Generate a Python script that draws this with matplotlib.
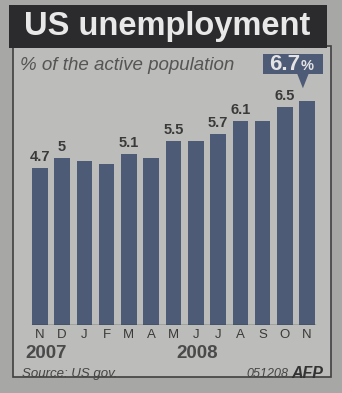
import numpy as np
import matplotlib

matplotlib.use("Agg")
import matplotlib.pyplot as plt
from matplotlib.patches import Rectangle, Polygon

months = ["N", "D", "J", "F", "M", "A", "M", "J", "J", "A", "S", "O", "N"]
rates = [4.7, 5.0, 4.9, 4.8, 5.1, 5.0, 5.5, 5.5, 5.7, 6.1, 6.1, 6.5, 6.7]
shown_labels = ["4.7", "5", "", "", "5.1", "", "5.5", "", "5.7", "6.1", "", "6.5", ""]
years = ["2007", "2008"]
year_anchor = [-0.65, 7.05]
year_align = ["left", "center"]

W, H = 342, 393
PAPER = "#a7a7a5"
PANEL = "#bcbcba"
BAND = "#2b2b2e"
BAR = "#4d5b77"
INK = "#3a3a3a"
FONT = "Liberation Sans"

fig = plt.figure(figsize=(W / 100, H / 100), dpi=100)
fig.patch.set_facecolor(PAPER)

# pixel-space overlay for the frame and the free text
bg = fig.add_axes([0, 0, 1, 1], zorder=0)
bg.set_xlim(0, W)
bg.set_ylim(H, 0)
bg.axis("off")
bg.add_patch(Rectangle((13, 46), 318, 331, facecolor=PANEL, edgecolor="#404040", lw=1.2))
bg.add_patch(Rectangle((9, 5), 318, 43, facecolor=BAND, edgecolor="none"))
bg.text(24, 27, "US unemployment", color="#e8e8e8", fontsize=23.5, fontweight="bold",
        va="center", ha="left", family=FONT)
bg.text(20, 65, "% of the active population", color="#555555", fontsize=13.5,
        style="italic", va="center", ha="left", family=FONT)
bg.text(22, 374, "Source: US gov.", color="#444444", fontsize=9.5, style="italic",
        va="center", ha="left", family=FONT)
bg.text(288, 374, "051208", color="#444444", fontsize=9, style="italic",
        va="center", ha="right", family=FONT)
bg.text(291, 373, "AFP", color="#333333", fontsize=11.5, style="italic", fontweight="bold",
        va="center", ha="left", family=FONT)

ax = fig.add_axes([0.0772, 0.173, 0.860, 0.639], zorder=1)
ax.patch.set_alpha(0)
x = np.arange(len(rates))
ax.bar(x, rates, width=0.7, color=BAR)
ax.set_xlim(-0.6, len(rates) - 0.4)
ax.set_ylim(0, 7.5)
ax.axhline(0, xmin=0.02, xmax=0.98, color="#333333", lw=1)
for s in ax.spines.values():
    s.set_visible(False)
ax.set_yticks([])
ax.set_xticks(x)
ax.set_xticklabels(months, fontsize=9.5, color=INK, family=FONT)
ax.tick_params(axis="x", length=0, pad=3)

for xi, v, lab in zip(x, rates, shown_labels):
    if lab:
        ax.text(xi, v + 0.12, lab, ha="center", va="bottom", fontsize=10.5,
                fontweight="bold", color=INK, family=FONT)

# callout on the latest value
last = len(rates) - 1
v = rates[last]
ax.add_patch(Rectangle((last - 1.98, v + 0.8), 2.69, 0.6, facecolor=BAR,
                       edgecolor="none", clip_on=False))
ax.add_patch(Polygon([(last - 0.45, v + 0.81), (last + 0.07, v + 0.81), (last - 0.19, v + 0.37)],
                     closed=True, facecolor=BAR, edgecolor="none", clip_on=False))
ax.text(last - 1.02, v + 1.09, f"{v}", ha="center", va="center",
        fontsize=16, fontweight="bold", color="#e4e4e4", family=FONT)
ax.text(last + 0.02, v + 1.05, "%", ha="center", va="center",
        fontsize=10.5, fontweight="bold", color="#e4e4e4", family=FONT)

for yr, xa, al in zip(years, year_anchor, year_align):
    ax.text(xa, -0.85, yr, ha=al, va="center", fontsize=13.5, fontweight="bold",
            color="#4a4a4a", family=FONT)

fig.savefig("out.png", dpi=100, facecolor=fig.get_facecolor())
